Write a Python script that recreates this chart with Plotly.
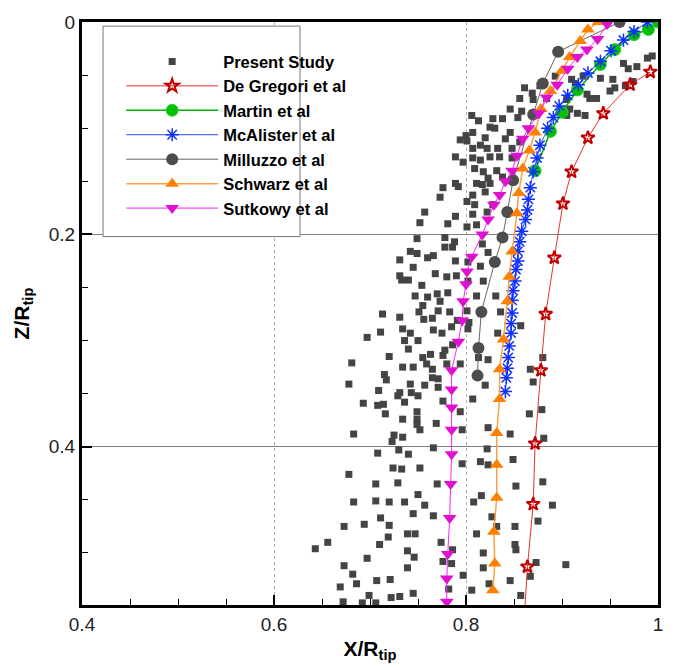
import plotly.graph_objects as go

# ---------------- data ----------------
ps_x = [0.994,0.989,0.978,0.969,0.964,0.974,0.966,0.955,0.953,0.940,0.950,0.936,0.929,0.926,0.922,0.910,0.861,0.856,0.869,0.870,0.914,0.905,0.893,0.884,0.877,
        0.846,0.854,0.858,0.838,0.828,0.813,0.806,0.905,0.908,0.916,0.924,0.830,0.825,0.807,0.846,0.820,0.841,0.856,0.815,0.822,0.807,0.833,0.848,0.825,0.835,0.848,0.807,0.815,0.809,0.818,0.832,0.838,0.823,0.811,0.817,0.807,0.820,0.825,0.809,0.807,0.828,0.822,0.811,
        0.800,0.794,0.801,0.789,0.797,0.789,0.792,0.776,0.773,0.801,0.757,0.752,0.781,0.789,0.801,
        0.749,0.742,0.749,0.731,0.760,0.745,0.731,0.733,0.740,0.754,0.747,0.760,0.755,0.713,0.731,0.751,0.756,0.734,0.711,0.742,0.697,0.736,0.750,
        0.720,0.681,0.715,0.717,0.678,0.709,0.729,
        0.778,0.788,0.778,0.786,0.817,0.789,0.815,0.802,0.766,0.768,0.780,0.790,0.802,0.818,0.770,0.781,0.811,0.831,0.773,0.771,0.783,0.801,0.836,0.765,0.791,0.803,0.802,0.766,0.775,0.857,0.785,0.823,0.833,
        0.740,0.755,0.763,0.776,0.778,0.786,0.813,0.734,0.745,0.759,0.765,0.780,0.794,0.823,0.765,0.771,0.742,0.757,0.771,0.731,0.743,0.750,0.736,0.776,0.807,0.820,0.794,0.749,0.749,0.749,0.752,0.734,0.734,0.769,0.796,0.823,0.846,0.867,0.870,0.866,0.879,0.881,0.822,0.766,0.815,0.823,0.849,0.752,0.796,0.770,0.736,0.757,0.745,0.766,0.816,0.808,0.852,0.880,0.890,0.875,0.832,0.851,0.811,0.739,0.747,0.774,0.851,0.852,0.739,0.746,0.818,0.776,0.786,0.873,0.904,0.739,0.818,0.797,0.867,0.846,0.824,0.806,0.782,0.745,0.857,0.880,0.740,0.733,0.750,0.827,0.731,0.785,
        0.693,0.708,0.714,0.716,0.725,0.723,0.683,0.708,0.730,0.678,0.724,0.706,0.729,0.683,0.706,0.720,0.711,0.673,0.694,0.720,0.719,0.656,0.643,0.710,0.697,0.673,0.682,0.707,0.721,0.669,0.686,0.672,0.692,0.699,0.706,0.722]
ps_y = [0.032,0.034,0.042,0.044,0.039,0.056,0.060,0.062,0.054,0.053,0.065,0.072,0.072,0.068,0.051,0.054,0.062,0.072,0.067,0.073,0.058,0.073,0.051,0.072,0.060,
        0.082,0.090,0.084,0.091,0.091,0.093,0.088,0.088,0.082,0.086,0.088,0.100,0.099,0.104,0.104,0.109,0.110,0.113,0.116,0.119,0.119,0.119,0.119,0.127,0.127,0.128,0.128,0.130,0.138,0.141,0.140,0.146,0.147,0.152,0.153,0.163,0.160,0.152,0.172,0.181,0.172,0.179,0.191,
        0.107,0.111,0.112,0.127,0.132,0.152,0.155,0.156,0.165,0.169,0.179,0.189,0.190,0.183,0.193,
        0.204,0.216,0.218,0.224,0.222,0.231,0.239,0.243,0.243,0.248,0.258,0.259,0.267,0.275,0.278,0.273,0.280,0.289,0.292,0.293,0.297,0.300,0.300,
        0.315,0.321,0.332,0.337,0.341,0.347,0.352,
        0.203,0.207,0.212,0.212,0.209,0.225,0.230,0.226,0.220,0.237,0.240,0.239,0.244,0.244,0.256,0.255,0.258,0.258,0.263,0.272,0.273,0.272,0.273,0.279,0.281,0.283,0.289,0.290,0.293,0.286,0.287,0.217,0.293,
        0.308,0.316,0.313,0.314,0.309,0.304,0.316,0.325,0.325,0.322,0.327,0.322,0.322,0.318,0.335,0.336,0.341,0.342,0.344,0.349,0.349,0.352,0.358,0.357,0.355,0.342,0.367,0.367,0.374,0.379,0.384,0.374,0.391,0.378,0.384,0.382,0.388,0.327,0.339,0.369,0.365,0.392,0.402,0.401,0.414,0.417,0.412,0.420,0.416,0.435,0.452,0.455,0.463,0.465,0.446,0.452,0.437,0.433,0.455,0.470,0.475,0.475,0.482,0.482,0.482,0.490,0.492,0.497,0.498,0.504,0.500,0.508,0.497,0.509,0.511,0.514,0.514,0.521,0.522,0.526,0.529,0.535,0.534,0.538,0.540,0.316,0.407,0.421,0.445,0.466,0.541,0.510,
        0.359,0.361,0.360,0.369,0.389,0.395,0.388,0.406,0.403,0.426,0.420,0.435,0.434,0.452,0.451,0.452,0.467,0.475,0.473,0.474,0.485,0.490,0.496,0.492,0.505,0.512,0.520,0.526,0.525,0.532,0.529,0.546,0.547,0.540,0.547,0.542]

degregori_x = [0.992, 0.971, 0.943, 0.927, 0.910, 0.901, 0.892, 0.883, 0.878, 0.872, 0.870, 0.864, 0.860]
degregori_y = [0.047, 0.059, 0.086, 0.109, 0.141, 0.171, 0.222, 0.275, 0.328, 0.397, 0.454, 0.513, 0.570]

martin_x = [1.000, 0.990, 0.975, 0.955, 0.940, 0.916, 0.900, 0.888, 0.872]
martin_y = [0.000, 0.007, 0.012, 0.026, 0.040, 0.064, 0.085, 0.103, 0.140]

mcalister_x = [0.989, 0.975, 0.964, 0.951, 0.940, 0.927, 0.917, 0.906, 0.897, 0.891, 0.885, 0.877, 0.874, 0.870, 0.867,
               0.865, 0.864, 0.862, 0.858, 0.856, 0.854, 0.854, 0.852, 0.851, 0.849, 0.848, 0.848, 0.847, 0.847, 0.845,
               0.844, 0.843, 0.842, 0.841]
mcalister_y = [0.000, 0.009, 0.017, 0.027, 0.037, 0.048, 0.059, 0.069, 0.079, 0.090, 0.100, 0.116, 0.128, 0.141, 0.156,
               0.167, 0.177, 0.186, 0.197, 0.207, 0.216, 0.225, 0.233, 0.244, 0.253, 0.262, 0.274, 0.284, 0.293, 0.305,
               0.316, 0.326, 0.335, 0.348]

milluzzo_x = [0.960, 0.896, 0.880, 0.870, 0.849, 0.843, 0.838, 0.830, 0.816, 0.813, 0.812]
milluzzo_y = [0.000, 0.028, 0.058, 0.087, 0.149, 0.179, 0.203, 0.226, 0.273, 0.307, 0.333]

schwarz_x = [0.938, 0.927, 0.919, 0.908, 0.900, 0.888, 0.878, 0.872, 0.866, 0.859, 0.855, 0.853, 0.848, 0.845,
             0.843, 0.839, 0.835, 0.835, 0.832, 0.832, 0.832, 0.829, 0.830, 0.828]
schwarz_y = [0.000, 0.007, 0.018, 0.033, 0.046, 0.065, 0.082, 0.104, 0.121, 0.138, 0.161, 0.180, 0.216, 0.240,
             0.263, 0.299, 0.327, 0.355, 0.387, 0.417, 0.448, 0.480, 0.510, 0.535]

sutkowy_x = [0.947, 0.937, 0.926, 0.916, 0.906, 0.895, 0.884, 0.876, 0.865, 0.859, 0.853, 0.848, 0.841, 0.835, 0.829,
             0.823, 0.817, 0.806, 0.801, 0.800, 0.797, 0.796, 0.792, 0.785, 0.785, 0.785, 0.785, 0.785, 0.784, 0.783,
             0.781, 0.780, 0.780]
sutkowy_y = [0.002, 0.016, 0.026, 0.033, 0.044, 0.059, 0.071, 0.086, 0.100, 0.110, 0.126, 0.140, 0.150, 0.163, 0.172,
             0.186, 0.200, 0.221, 0.235, 0.247, 0.263, 0.281, 0.301, 0.328, 0.346, 0.363, 0.384, 0.407, 0.435, 0.467,
             0.501, 0.524, 0.546]

x_ticks = [0.4, 0.6, 0.8, 1.0]
x_ticklabels = ["0.4", "0.6", "0.8", "1"]
y_ticks = [0, 0.2, 0.4]
y_ticklabels = ["0", "0.2", "0.4"]

FONT = "Liberation Sans, Arial, sans-serif"

fig = go.Figure()
fig.add_trace(go.Scatter(x=ps_x, y=ps_y, mode="markers", name="Present Study",
                         marker=dict(symbol="square", size=7, color="#444444")))
fig.add_trace(go.Scatter(x=degregori_x, y=degregori_y, mode="lines+markers", name="De Gregori et al",
                         line=dict(color="#e83030", width=1),
                         marker=dict(symbol="star-open", size=10, color="#c00000", line=dict(width=2, color="#c00000"))))
fig.add_trace(go.Scatter(x=martin_x, y=martin_y, mode="lines+markers", name="Martin et al",
                         line=dict(color="#00b000", width=1.5),
                         marker=dict(symbol="circle", size=12, color="#00c000", line=dict(width=1, color="#30d030"))))
fig.add_trace(go.Scatter(x=mcalister_x, y=mcalister_y, mode="lines+markers", name="McAlister et al",
                         line=dict(color="#3050ff", width=1),
                         marker=dict(symbol="asterisk-open", size=11, color="#1030ff", line=dict(width=1.5, color="#1030ff"))))
fig.add_trace(go.Scatter(x=milluzzo_x, y=milluzzo_y, mode="lines+markers", name="Milluzzo et al",
                         line=dict(color="#666666", width=1),
                         marker=dict(symbol="circle", size=12, color="#4d4d4d")))
fig.add_trace(go.Scatter(x=schwarz_x, y=schwarz_y, mode="lines+markers", name="Schwarz et al",
                         line=dict(color="#ffa040", width=1.5),
                         marker=dict(symbol="triangle-up", size=12, color="#ff8000")))
fig.add_trace(go.Scatter(x=sutkowy_x, y=sutkowy_y, mode="lines+markers", name="Sutkowy et al",
                         line=dict(color="#ff20ff", width=1),
                         marker=dict(symbol="triangle-down", size=12, color="#e010d0")))

axis_common = dict(
    showline=True, linecolor="black", linewidth=3, mirror=True,
    ticks="inside", ticklen=10, tickwidth=2, tickcolor="black",
    tickfont=dict(family=FONT, size=19, color="#222222"),
    zeroline=False,
)

fig.update_xaxes(range=[0.4, 1.0], tickvals=x_ticks, ticktext=x_ticklabels,
                 showgrid=True, gridcolor="#b0b0b0", gridwidth=1, griddash="dot",
                 minor=dict(dtick=0.05, tick0=0.4, ticks="inside", ticklen=6, tickwidth=1, tickcolor="black", showgrid=False),
                 title=dict(text="<b>X/R<sub>tip</sub></b>", font=dict(family=FONT, size=21, color="black"), standoff=8),
                 **axis_common)
fig.update_yaxes(range=[0.549, 0], tickvals=y_ticks, ticktext=y_ticklabels,
                 showgrid=True, gridcolor="#808080", gridwidth=1,
                 minor=dict(dtick=0.05, tick0=0, ticks="inside", ticklen=6, tickwidth=1, tickcolor="black", showgrid=False),
                 title=dict(text="<b>Z/R<sub>tip</sub></b>", font=dict(family=FONT, size=21, color="black"), standoff=14),
                 **axis_common)

fig.add_shape(type="rect", xref="paper", yref="paper", x0=0.0365, x1=0.3785, y0=0.632, y1=0.993,
              line=dict(color="#777777", width=1), fillcolor="white", layer="above")

fig.update_layout(
    width=676, height=670,
    margin=dict(l=82, r=18, t=15, b=65),
    plot_bgcolor="white", paper_bgcolor="white",
    font=dict(family=FONT, color="black"),
    legend=dict(x=0.068, y=0.962, xanchor="left", yanchor="top",
                bgcolor="rgba(0,0,0,0)", borderwidth=0, itemwidth=92,
                font=dict(family=FONT, size=16.5, color="black", weight="bold")),
)

fig.write_html("out.html")
